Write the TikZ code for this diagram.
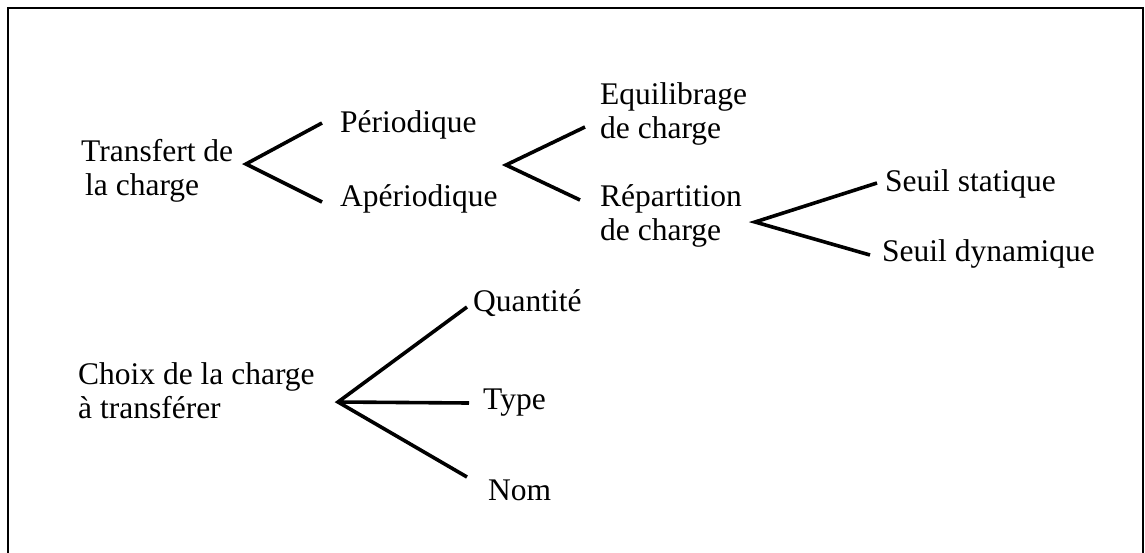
\documentclass[tikz,border=0pt]{standalone}
\usepackage{fontspec}
\setmainfont{Liberation Serif}
\begin{document}
\begin{tikzpicture}[x=1pt,y=-1pt,
  lbl/.style={anchor=west, inner sep=0pt, align=left, font=\fontsize{31.5}{34}\selectfont},
  branch/.style={line width=3.6pt, line join=miter},
  frame/.style={line width=2.6pt}]
\useasboundingbox (0,0) rectangle (1145,552);
% open frame: left, top and right sides
\draw[frame] (8,560) -- (8,8) -- (1143,8) -- (1143,560);

% load transfer tree
\node[lbl] (tc) at (81,171) {Transfert de\\\hspace{4pt}la charge};
\node[lbl] (per) at (340,125) {Périodique};
\node[lbl] (aper) at (340,199) {Apériodique};
\node[lbl] (equi) at (600,114) {Equilibrage\\de charge};
\node[lbl] (rep) at (600,216) {Répartition\\de charge};
\node[lbl] (sst) at (885,184) {Seuil statique};
\node[lbl] (sdy) at (882,254) {Seuil dynamique};

% choice of the load
\node[lbl] (choix) at (78,391) {Choix de la charge\\à transférer};
\node[lbl] (qte) at (473,303) {Quantité};
\node[lbl] (type) at (483,403) {Type};
\node[lbl] (nom) at (488,490) {Nom};

% branch points and branch ends
\coordinate (c1) at (246,164);
\coordinate (c1a) at (322,123);
\coordinate (c1b) at (322,202);
\coordinate (c2) at (506,165);
\coordinate (c2a) at (585,127);
\coordinate (c2b) at (580,200);
\coordinate (c3) at (755,222);
\coordinate (c3a) at (877,183);
\coordinate (c3b) at (870,255);
\coordinate (c4) at (338,402);
\coordinate (c4a) at (467,307);
\coordinate (c4b) at (469,403);
\coordinate (c4c) at (467,477);

\draw[branch] (c1a) -- (c1) -- (c1b);
\draw[branch] (c2a) -- (c2) -- (c2b);
\draw[branch] (c3a) -- (c3) -- (c3b);
\draw[branch] (c4a) -- (c4) -- (c4c);
\draw[branch] (c4) -- (c4b);
\end{tikzpicture}
\end{document}
